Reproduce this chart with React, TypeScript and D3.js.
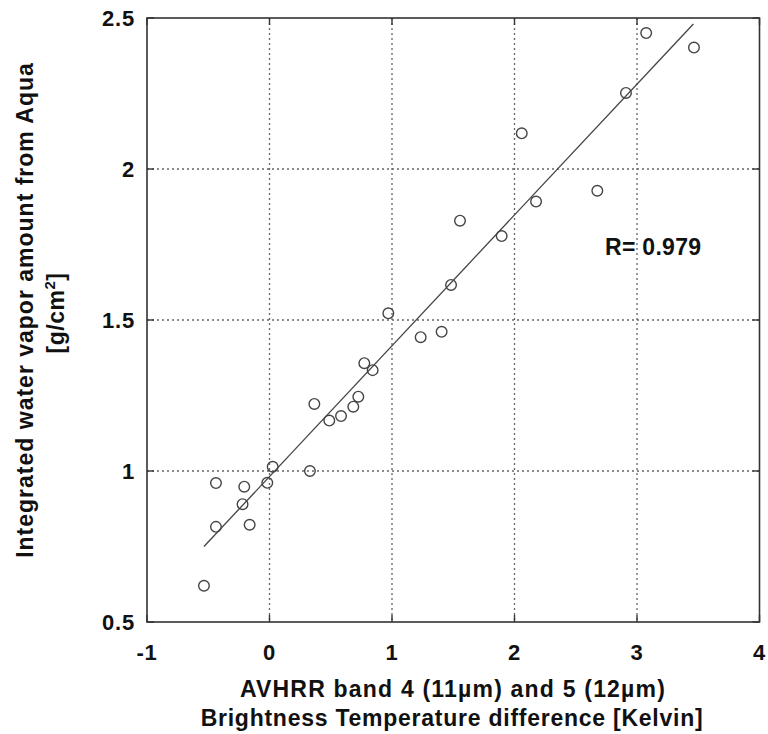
import React from "react";
import * as d3 from "d3";

const btDiff = [-0.535, -0.437, -0.437, -0.22, -0.206, -0.162, -0.018, 0.026, 0.33, 0.366, 0.488, 0.584, 0.684, 0.725, 0.774, 0.842, 0.97, 1.234, 1.405, 1.482, 1.555, 1.895, 2.059, 2.176, 2.676, 2.91, 3.075, 3.465];
const waterVapor = [0.62, 0.96, 0.815, 0.89, 0.948, 0.822, 0.961, 1.014, 1.0, 1.222, 1.167, 1.182, 1.213, 1.246, 1.357, 1.334, 1.522, 1.443, 1.461, 1.616, 1.829, 1.778, 2.118, 1.892, 1.928, 2.252, 2.45, 2.402];
const fitX = [-0.535, 3.46];
const fitY = [0.75, 2.48];
const xTicks = [-1, 0, 1, 2, 3, 4];
const yTicks = [0.5, 1, 1.5, 2, 2.5];
const xGrid = [0, 1, 2, 3];
const yGrid = [1, 1.5, 2];

const W = 768, H = 734;
const L = 147, R = 759.5, T = 18, B = 622;
const FONT = "'Liberation Sans', Arial, Helvetica, sans-serif";
const INK = "#333";

export default function App() {
  const x = d3.scaleLinear().domain([-1, 4]).range([L, R]);
  const y = d3.scaleLinear().domain([0.5, 2.5]).range([B, T]);
  const line = d3.line<number>().x((d) => x(fitX[d])).y((d) => y(fitY[d]));
  const tl = 7;
  return (
    <svg width={W} height={H} style={{ position: "absolute", left: 0, top: 0, background: "#fff" }} fontFamily={FONT}>
      <rect x={0} y={0} width={W} height={H} fill="#fff" />
      {xGrid.map((v) => (
        <line key={"gx" + v} x1={x(v)} x2={x(v)} y1={T} y2={B} stroke="#666" strokeWidth={1.3} strokeDasharray="2,3" />
      ))}
      {yGrid.map((v) => (
        <line key={"gy" + v} x1={L} x2={R} y1={y(v)} y2={y(v)} stroke="#666" strokeWidth={1.3} strokeDasharray="2,3" />
      ))}
      {xTicks.map((v) => (
        <g key={"tx" + v}>
          <line x1={x(v)} x2={x(v)} y1={B} y2={B - tl} stroke={INK} strokeWidth={1.4} />
          <line x1={x(v)} x2={x(v)} y1={T} y2={T + tl} stroke={INK} strokeWidth={1.4} />
          <text x={x(v)} y={660} textAnchor="middle" fontSize={22} fontWeight="bold" fill="#111" letterSpacing={0.8}>{v}</text>
        </g>
      ))}
      {yTicks.map((v) => (
        <g key={"ty" + v}>
          <line x1={L} x2={L + tl} y1={y(v)} y2={y(v)} stroke={INK} strokeWidth={1.4} />
          <line x1={R} x2={R - tl} y1={y(v)} y2={y(v)} stroke={INK} strokeWidth={1.4} />
          <text x={135} y={y(v) + 8} textAnchor="end" fontSize={22} fontWeight="bold" fill="#111" letterSpacing={0.8}>{v}</text>
        </g>
      ))}
      <rect x={L} y={T} width={R - L} height={B - T} fill="none" stroke={INK} strokeWidth={1.6} />
      <path d={line([0, 1]) || ""} fill="none" stroke="#444" strokeWidth={1.3} />
      {btDiff.map((v, i) => (
        <circle key={"p" + i} cx={x(v)} cy={y(waterVapor[i])} r={5.3} fill="none" stroke="#444" strokeWidth={1.4} />
      ))}
      <text x={605} y={255} fontSize={23} fontWeight="bold" fill="#111" letterSpacing={0.3}>R= 0.979</text>
      <text x={453} y={697} textAnchor="middle" fontSize={23} fontWeight="bold" fill="#111" letterSpacing={1.2}>
        AVHRR band 4 (11µm) and 5 (12µm)
      </text>
      <text x={452} y={726} textAnchor="middle" fontSize={23} fontWeight="bold" fill="#111" letterSpacing={0.75}>
        Brightness Temperature difference [Kelvin]
      </text>
      <text transform="translate(33,310) rotate(-90)" textAnchor="middle" fontSize={23} fontWeight="bold" fill="#111" letterSpacing={1}>
        Integrated water vapor amount from Aqua
      </text>
      <text transform="translate(64,313) rotate(-90)" textAnchor="middle" fontSize={23} fontWeight="bold" fill="#111" letterSpacing={0.5}>
        [g/cm<tspan fontSize={15} dy={-9}>2</tspan><tspan dy={9}>]</tspan>
      </text>
    </svg>
  );
}
